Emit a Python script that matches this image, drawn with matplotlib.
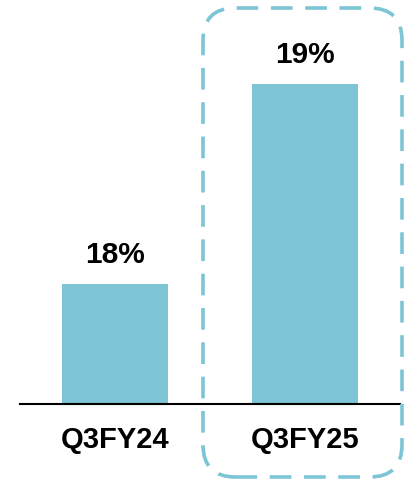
import matplotlib.pyplot as plt
from matplotlib.patches import FancyBboxPatch

plt.rcParams['font.family'] = ['Liberation Sans', 'DejaVu Sans']

quarters = ['Q3FY24', 'Q3FY25']
values = [18, 19]
labels = ['18%', '19%']

bar_color = '#7dc4d5'

fig = plt.figure(figsize=(4.05, 4.8), dpi=100)
ax = fig.add_axes([20 / 405, 76 / 480, 380 / 405, 404 / 480])

x = range(len(quarters))
bars = ax.bar(x, values, width=0.553, color=bar_color)
ax.set_xlim(-0.5, 1.5)
ax.set_ylim(17.4, 19.42)

for b, lab in zip(bars, labels):
    ax.annotate(lab, (b.get_x() + b.get_width() / 2, b.get_height()),
                xytext=(0, 15), textcoords='offset pixels',
                ha='center', va='bottom', fontsize=21.5, fontweight='bold')

ax.set_xticks(list(x))
ax.set_xticklabels(quarters, fontsize=21, fontweight='bold')
ax.tick_params(axis='x', length=0, pad=16)
ax.set_yticks([])
for s in ['top', 'left', 'right']:
    ax.spines[s].set_visible(False)
ax.spines['bottom'].set_linewidth(1.5)

# dashed highlight around the latest quarter
box = FancyBboxPatch((203 / 405, 3 / 480), 199 / 405, 469 / 480,
                     boxstyle='round,pad=0,rounding_size=0.08',
                     transform=fig.transFigure, fill=False,
                     edgecolor=bar_color, linewidth=2.6,
                     linestyle=(0, (6, 3.5)), clip_on=False,
                     mutation_aspect=405 / 480)
fig.patches.append(box)

fig.savefig('out.png', dpi=100)
